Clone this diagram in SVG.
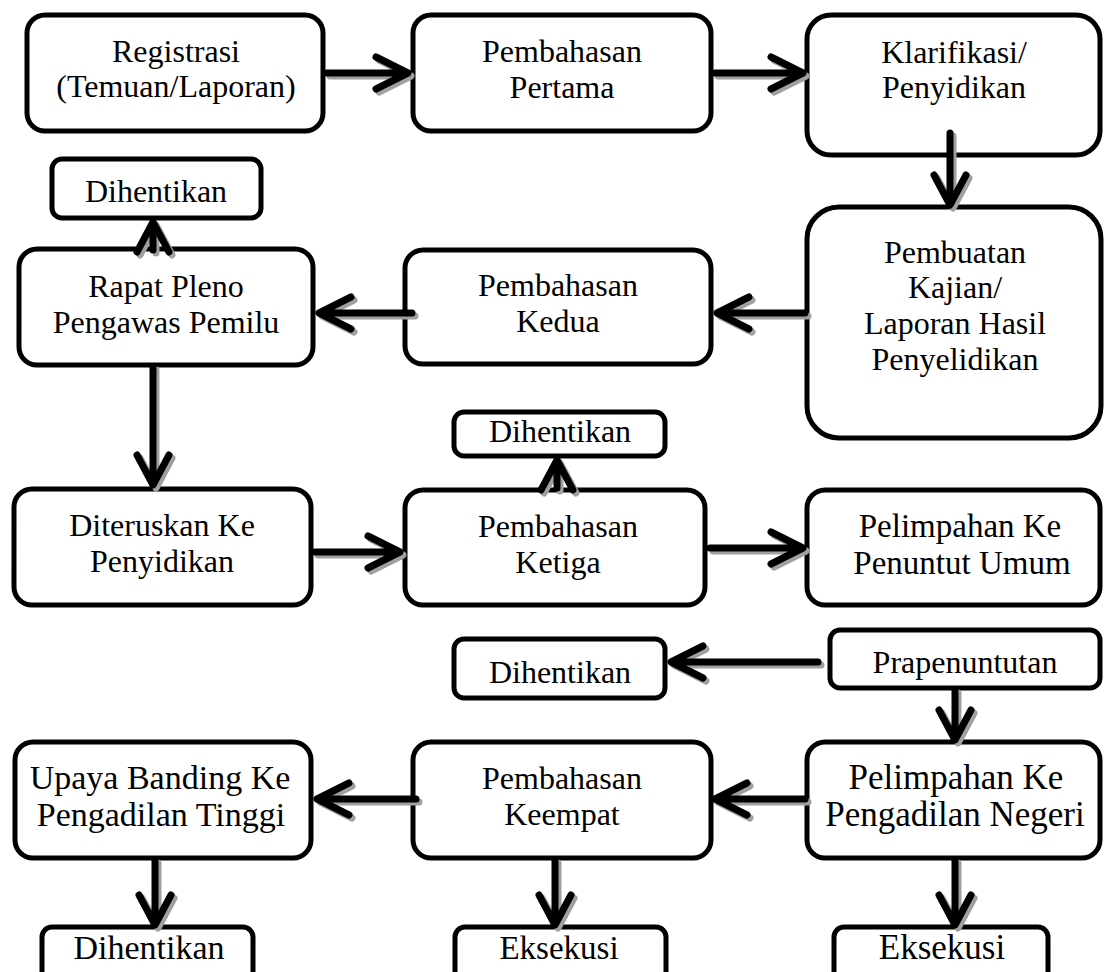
<svg xmlns="http://www.w3.org/2000/svg" xmlns:xlink="http://www.w3.org/1999/xlink" width="1104" height="972" viewBox="0 0 1104 972">
<style>
.box{fill:#fff;stroke:#000;stroke-width:5}
.t{font-family:"Liberation Serif","Times New Roman",serif;font-size:32px;fill:#000;text-anchor:middle}
.ln{fill:none;stroke:#000;stroke-width:7;stroke-linecap:round;stroke-linejoin:round}
.sh{fill:none;stroke:#a0a0a0;stroke-width:7;stroke-linecap:round;stroke-linejoin:round}
</style>
<defs>
<path id="c1" d="M327 73H406M376 57L408 73L376 89"/>
<path id="c2" d="M715 73H801M771 57L803 73L771 89"/>
<path id="c3" d="M950 133V203M934 175L950 205M966 175L950 205"/>
<path id="c4" d="M805 313H719M749 297L717 313L749 329"/>
<path id="c5" d="M412 313H321M351 297L319 313L351 329"/>
<path id="c6" d="M153 250V226M137 252L153 222L169 252"/>
<path id="c7" d="M153 367V483M137 455L153 485L169 455"/>
<path id="c8" d="M315 552H398M368 536L400 552L368 568"/>
<path id="c9" d="M557 488V464M541 490L557 460L573 490"/>
<path id="c10" d="M710 548H801M771 532L803 548L771 564"/>
<path id="c11" d="M818 662H673M703 646L671 662L703 678"/>
<path id="c12" d="M955 690V738M939 710L955 740L971 710"/>
<path id="c13" d="M416 799H319M349 783L317 799L349 815"/>
<path id="c14" d="M805 799H717M747 783L715 799L747 815"/>
<path id="c15" d="M155 860V923M139 895L155 925L171 895"/>
<path id="c16" d="M555 860V923M539 895L555 925L571 895"/>
<path id="c17" d="M955 860V923M939 895L955 925L971 895"/>
</defs>
<rect width="1104" height="972" fill="#fff"/>
<g id="n1"><rect class="box" x="27" y="15" width="296" height="116" rx="18"/><text class="t" x="176" y="62">Registrasi</text><text class="t" x="176" y="97">(Temuan/Laporan)</text></g>
<g id="n2"><rect class="box" x="413" y="15" width="298" height="116" rx="18"/><text class="t" x="562" y="62">Pembahasan</text><text class="t" x="562" y="98">Pertama</text></g>
<g id="n3"><rect class="box" x="807" y="15" width="293" height="140" rx="24"/><text class="t" x="954" y="63">Klarifikasi/</text><text class="t" x="954" y="98">Penyidikan</text></g>
<g id="n4"><rect class="box" x="807" y="207" width="294" height="231" rx="32"/><text class="t" x="955" y="263">Pembuatan</text><text class="t" x="955" y="298">Kajian/</text><text class="t" x="955" y="334">Laporan Hasil</text><text class="t" x="955" y="370">Penyelidikan</text></g>
<g id="n5"><rect class="box" x="52" y="159" width="209" height="59" rx="10"/><text class="t" x="156" y="202">Dihentikan</text></g>
<g id="n6"><rect class="box" x="19" y="249" width="294" height="116" rx="18"/><text class="t" x="166" y="297">Rapat Pleno</text><text class="t" x="166" y="333">Pengawas Pemilu</text></g>
<g id="n7"><rect class="box" x="405" y="250" width="306" height="114" rx="18"/><text class="t" x="558" y="296">Pembahasan</text><text class="t" x="558" y="332">Kedua</text></g>
<g id="n8"><rect class="box" x="454" y="412" width="211" height="44" rx="10"/><text class="t" x="560" y="442">Dihentikan</text></g>
<g id="n9"><rect class="box" x="14" y="489" width="297" height="116" rx="18"/><text class="t" x="162" y="536">Diteruskan Ke</text><text class="t" x="162" y="572">Penyidikan</text></g>
<g id="n10"><rect class="box" x="405" y="490" width="300" height="115" rx="18"/><text class="t" x="558" y="537">Pembahasan</text><text class="t" x="558" y="573">Ketiga</text></g>
<g id="n11"><rect class="box" x="807" y="490" width="293" height="115" rx="18"/><text class="t" x="960" y="537" style="font-size:33px">Pelimpahan Ke</text><text class="t" x="962" y="574" style="font-size:33px">Penuntut Umum</text></g>
<g id="n12"><rect class="box" x="454" y="639" width="211" height="59" rx="10"/><text class="t" x="560" y="683">Dihentikan</text></g>
<g id="n13"><rect class="box" x="830" y="630" width="270" height="58" rx="10"/><text class="t" x="965" y="673">Prapenuntutan</text></g>
<g id="n14"><rect class="box" x="15" y="742" width="296" height="116" rx="18"/><text class="t" x="160" y="789" style="font-size:34px">Upaya Banding Ke</text><text class="t" x="161" y="826" style="font-size:34px">Pengadilan Tinggi</text></g>
<g id="n15"><rect class="box" x="413" y="742" width="298" height="116" rx="18"/><text class="t" x="562" y="789">Pembahasan</text><text class="t" x="562" y="825">Keempat</text></g>
<g id="n16"><rect class="box" x="807" y="742" width="293" height="116" rx="18"/><text class="t" x="956" y="789" style="font-size:35px">Pelimpahan Ke</text><text class="t" x="955" y="826" style="font-size:35px">Pengadilan Negeri</text></g>
<g id="n17"><rect class="box" x="42" y="927" width="211" height="60" rx="10"/><text class="t" x="149" y="959" style="font-size:34px">Dihentikan</text></g>
<g id="n18"><rect class="box" x="455" y="927" width="211" height="60" rx="10"/><text class="t" x="559" y="959" style="font-size:33px">Eksekusi</text></g>
<g id="n19"><rect class="box" x="834" y="927" width="214" height="60" rx="10"/><text class="t" x="942" y="959" style="font-size:35px">Eksekusi</text></g>
<g id="connectors">
<g class="sh" transform="translate(3,3)">
<use xlink:href="#c1"/><use xlink:href="#c2"/><use xlink:href="#c3"/><use xlink:href="#c4"/><use xlink:href="#c5"/><use xlink:href="#c6"/><use xlink:href="#c7"/><use xlink:href="#c8"/><use xlink:href="#c9"/><use xlink:href="#c10"/><use xlink:href="#c11"/><use xlink:href="#c12"/><use xlink:href="#c13"/><use xlink:href="#c14"/><use xlink:href="#c15"/><use xlink:href="#c16"/><use xlink:href="#c17"/>
</g>
<g class="ln">
<use xlink:href="#c1"/><use xlink:href="#c2"/><use xlink:href="#c3"/><use xlink:href="#c4"/><use xlink:href="#c5"/><use xlink:href="#c6"/><use xlink:href="#c7"/><use xlink:href="#c8"/><use xlink:href="#c9"/><use xlink:href="#c10"/><use xlink:href="#c11"/><use xlink:href="#c12"/><use xlink:href="#c13"/><use xlink:href="#c14"/><use xlink:href="#c15"/><use xlink:href="#c16"/><use xlink:href="#c17"/>
</g>
</g>
</svg>
